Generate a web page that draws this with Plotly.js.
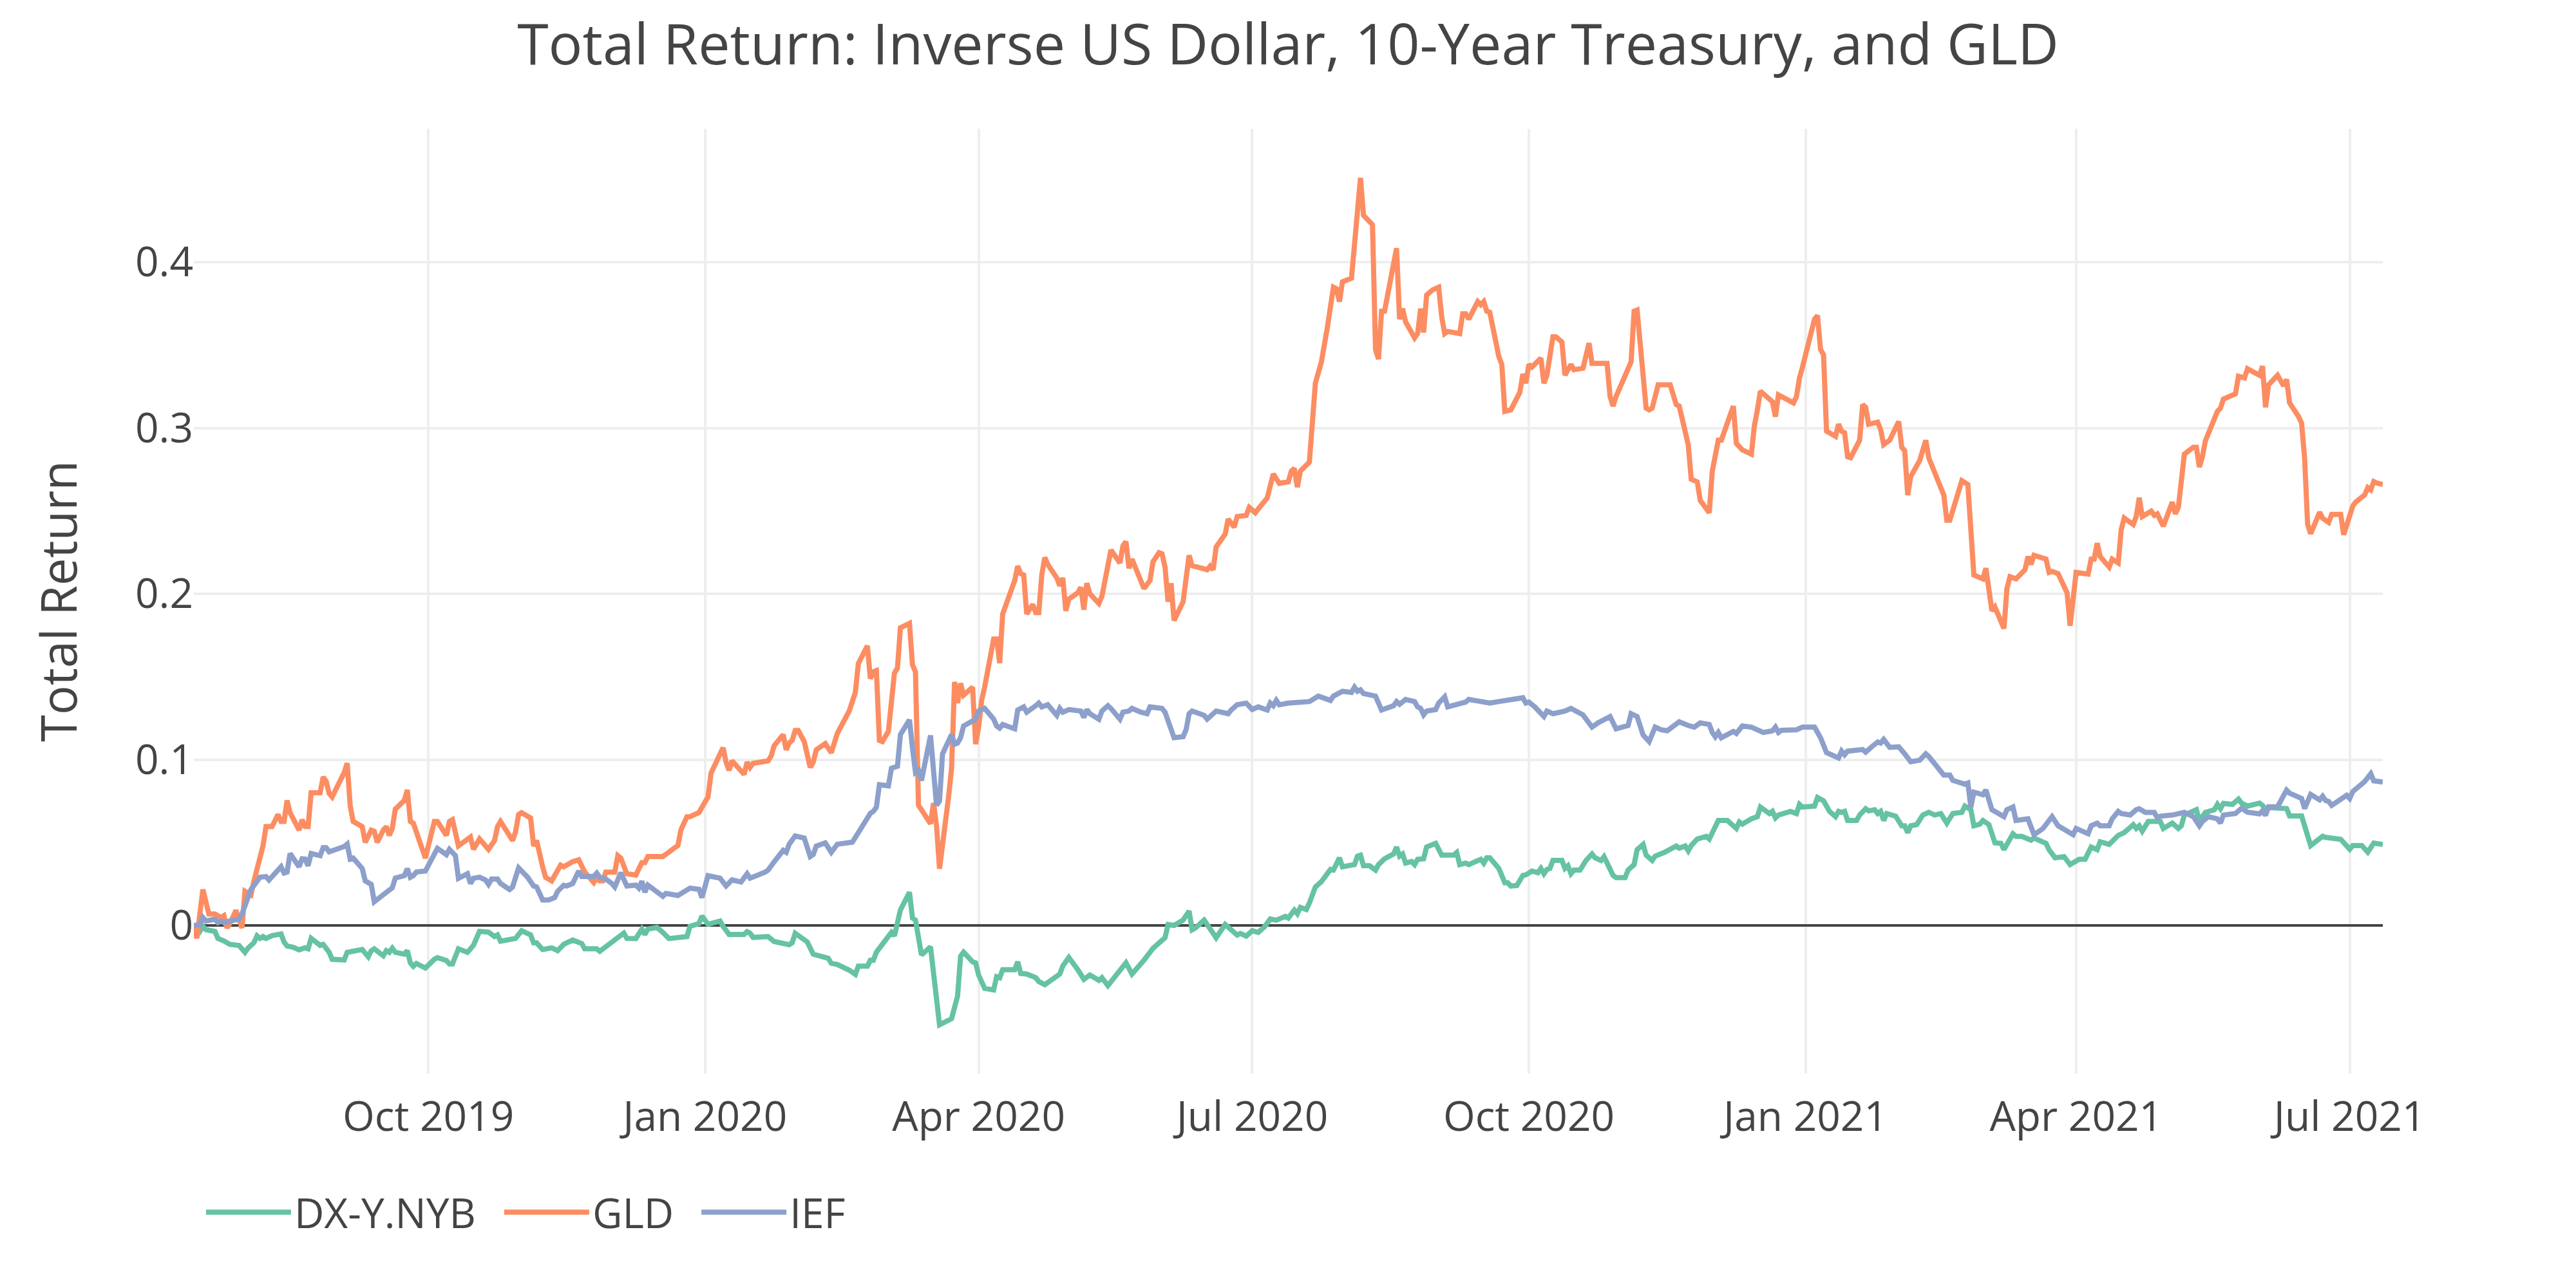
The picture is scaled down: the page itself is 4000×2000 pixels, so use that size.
<!DOCTYPE html>
<html>
<head>
<meta charset="utf-8">
<script src="https://cdn.plot.ly/plotly-3.0.1.min.js"></script>
<style>html,body{margin:0;padding:0;background:#fff;}#chart{width:4000px;height:2000px;}</style>
</head>
<body>
<div id="chart"></div>
<script>
const seriesNames = ['DX-Y.NYB', 'GLD', 'IEF'];
const seriesColors = ['#66c2a5', '#fc8d62', '#8da0cb'];

const dxDates = ['2019-07-15','2019-07-17','2019-07-18','2019-07-19','2019-07-22','2019-07-23','2019-07-25','2019-07-27','2019-07-30','2019-08-01','2019-08-02','2019-08-04','2019-08-05','2019-08-06','2019-08-07','2019-08-08','2019-08-10','2019-08-13','2019-08-14','2019-08-15','2019-08-17','2019-08-19','2019-08-21','2019-08-22','2019-08-23','2019-08-25','2019-08-26','2019-08-27','2019-08-29','2019-08-30','2019-09-03','2019-09-04','2019-09-09','2019-09-11','2019-09-12','2019-09-13','2019-09-16','2019-09-17','2019-09-18','2019-09-19','2019-09-20','2019-09-23','2019-09-24','2019-09-25','2019-09-26','2019-09-27','2019-09-30','2019-10-03','2019-10-04','2019-10-07','2019-10-08','2019-10-09','2019-10-11','2019-10-14','2019-10-16','2019-10-18','2019-10-21','2019-10-23','2019-10-24','2019-10-25','2019-10-28','2019-10-30','2019-11-01','2019-11-04','2019-11-05','2019-11-06','2019-11-08','2019-11-11','2019-11-13','2019-11-15','2019-11-18','2019-11-21','2019-11-22','2019-11-26','2019-11-27','2019-12-05','2019-12-06','2019-12-09','2019-12-11','2019-12-12','2019-12-13','2019-12-16','2019-12-18','2019-12-20','2019-12-26','2019-12-27','2019-12-30','2019-12-31','2020-01-02','2020-01-06','2020-01-07','2020-01-09','2020-01-14','2020-01-15','2020-01-16','2020-01-17','2020-01-22','2020-01-24','2020-01-29','2020-01-30','2020-01-31','2020-02-04','2020-02-06','2020-02-11','2020-02-12','2020-02-14','2020-02-18','2020-02-20','2020-02-21','2020-02-24','2020-02-25','2020-02-26','2020-02-27','2020-03-03','2020-03-04','2020-03-06','2020-03-09','2020-03-10','2020-03-11','2020-03-13','2020-03-16','2020-03-19','2020-03-23','2020-03-25','2020-03-26','2020-03-27','2020-03-30','2020-03-31','2020-04-01','2020-04-03','2020-04-06','2020-04-07','2020-04-08','2020-04-09','2020-04-13','2020-04-14','2020-04-15','2020-04-17','2020-04-20','2020-04-21','2020-04-23','2020-04-28','2020-04-29','2020-05-01','2020-05-04','2020-05-06','2020-05-08','2020-05-11','2020-05-12','2020-05-14','2020-05-20','2020-05-22','2020-05-26','2020-05-28','2020-05-29','2020-06-02','2020-06-03','2020-06-05','2020-06-08','2020-06-10','2020-06-11','2020-06-12','2020-06-15','2020-06-19','2020-06-22','2020-06-24','2020-06-26','2020-06-27','2020-06-29','2020-07-01','2020-07-03','2020-07-05','2020-07-06','2020-07-07','2020-07-09','2020-07-12','2020-07-13','2020-07-15','2020-07-16','2020-07-17','2020-07-19','2020-07-20','2020-07-22','2020-07-24','2020-07-27','2020-07-28','2020-07-30','2020-07-31','2020-08-04','2020-08-05','2020-08-06','2020-08-07','2020-08-09','2020-08-11','2020-08-12','2020-08-14','2020-08-17','2020-08-18','2020-08-19','2020-08-20','2020-08-21','2020-08-23','2020-08-24','2020-08-25','2020-08-27','2020-08-28','2020-08-31','2020-09-02','2020-09-06','2020-09-07','2020-09-08','2020-09-10','2020-09-11','2020-09-14','2020-09-15','2020-09-16','2020-09-17','2020-09-18','2020-09-21','2020-09-23','2020-09-24','2020-09-25','2020-09-27','2020-09-29','2020-09-30','2020-10-02','2020-10-04','2020-10-05','2020-10-06','2020-10-07','2020-10-08','2020-10-09','2020-10-12','2020-10-13','2020-10-14','2020-10-15','2020-10-16','2020-10-18','2020-10-20','2020-10-22','2020-10-23','2020-10-25','2020-10-26','2020-10-29','2020-10-30','2020-11-02','2020-11-03','2020-11-05','2020-11-06','2020-11-08','2020-11-09','2020-11-11','2020-11-12','2020-11-15','2020-11-17','2020-11-19','2020-11-20','2020-11-22','2020-11-23','2020-11-24','2020-11-26','2020-11-29','2020-11-30','2020-12-03','2020-12-06','2020-12-09','2020-12-10','2020-12-11','2020-12-14','2020-12-16','2020-12-17','2020-12-20','2020-12-21','2020-12-22','2020-12-23','2020-12-27','2020-12-29','2020-12-30','2020-12-31','2021-01-04','2021-01-05','2021-01-07','2021-01-09','2021-01-11','2021-01-12','2021-01-13','2021-01-14','2021-01-15','2021-01-18','2021-01-19','2021-01-21','2021-01-22','2021-01-24','2021-01-25','2021-01-26','2021-01-27','2021-01-28','2021-01-31','2021-02-02','2021-02-03','2021-02-04','2021-02-05','2021-02-07','2021-02-09','2021-02-11','2021-02-13','2021-02-15','2021-02-17','2021-02-19','2021-02-22','2021-02-23','2021-02-24','2021-02-25','2021-02-26','2021-02-28','2021-03-01','2021-03-03','2021-03-05','2021-03-07','2021-03-08','2021-03-10','2021-03-11','2021-03-12','2021-03-14','2021-03-17','2021-03-18','2021-03-22','2021-03-23','2021-03-25','2021-03-28','2021-03-30','2021-03-31','2021-04-02','2021-04-04','2021-04-06','2021-04-08','2021-04-09','2021-04-12','2021-04-15','2021-04-17','2021-04-20','2021-04-21','2021-04-22','2021-04-23','2021-04-25','2021-04-29','2021-04-30','2021-05-03','2021-05-05','2021-05-06','2021-05-07','2021-05-11','2021-05-12','2021-05-14','2021-05-17','2021-05-18','2021-05-19','2021-05-20','2021-05-23','2021-05-25','2021-05-26','2021-05-28','2021-06-01','2021-06-02','2021-06-03','2021-06-04','2021-06-10','2021-06-11','2021-06-15','2021-06-18','2021-06-22','2021-06-23','2021-06-28','2021-07-01','2021-07-02','2021-07-05','2021-07-07','2021-07-09','2021-07-12'];
const dxValues = [0,-0.0036,-0.0004,-0.0025,-0.0036,-0.0078,-0.0093,-0.0114,-0.012,-0.0162,-0.0137,-0.0103,-0.0063,-0.0078,-0.0067,-0.0078,-0.0061,-0.0051,-0.0099,-0.0124,-0.0131,-0.0147,-0.0135,-0.0141,-0.0078,-0.0105,-0.012,-0.0114,-0.0162,-0.0204,-0.0208,-0.0162,-0.0145,-0.0189,-0.0152,-0.0141,-0.0183,-0.0152,-0.0162,-0.0137,-0.0162,-0.0173,-0.0152,-0.0225,-0.0246,-0.0229,-0.0257,-0.0204,-0.0194,-0.0211,-0.0232,-0.0232,-0.0141,-0.0162,-0.012,-0.0036,-0.004,-0.0067,-0.0057,-0.0095,-0.0084,-0.0078,-0.0032,-0.0057,-0.0105,-0.0105,-0.0145,-0.0135,-0.0152,-0.0114,-0.0088,-0.0109,-0.0141,-0.0141,-0.0156,-0.0046,-0.0078,-0.0079,-0.0022,-0.0054,-0.0022,-0.0012,-0.0042,-0.0079,-0.0067,-0.0005,0.0012,0.0057,0.0007,0.0027,-0.0005,-0.0054,-0.0054,-0.0037,-0.0047,-0.0072,-0.0067,-0.0097,-0.0116,-0.0104,-0.0047,-0.0099,-0.0173,-0.0198,-0.0228,-0.0235,-0.027,-0.0295,-0.0245,-0.0245,-0.021,-0.021,-0.0161,-0.0042,-0.0062,0.0094,0.02,0.0045,0.0032,-0.0178,-0.0129,-0.0599,-0.0562,-0.0426,-0.0186,-0.0161,-0.0219,-0.0225,-0.0299,-0.0379,-0.0389,-0.0309,-0.0315,-0.0267,-0.0267,-0.0219,-0.0289,-0.0293,-0.0315,-0.0338,-0.0357,-0.0293,-0.0244,-0.0193,-0.0267,-0.0325,-0.0299,-0.0331,-0.0315,-0.0363,-0.0225,-0.0293,-0.0209,-0.0154,-0.0138,-0.0074,0.0006,0,0.0032,0.0087,-0.0026,-0.0016,0.0032,-0.0074,0.0006,-0.0026,-0.0058,-0.0048,-0.0064,-0.0032,-0.0042,-0.001,0.0016,0.0039,0.0032,0.0055,0.0045,0.0093,0.0071,0.0109,0.0096,0.0135,0.0232,0.0264,0.0338,0.0334,0.0408,0.0354,0.0367,0.0418,0.0424,0.036,0.036,0.0334,0.0367,0.0402,0.0431,0.0473,0.0418,0.0431,0.0376,0.0386,0.0367,0.0399,0.0402,0.0473,0.0495,0.0424,0.0424,0.044,0.0367,0.0376,0.0367,0.0392,0.0399,0.0376,0.0408,0.0408,0.0344,0.0257,0.0257,0.0238,0.0241,0.0302,0.0305,0.0328,0.0318,0.0344,0.0312,0.0338,0.0344,0.0392,0.0392,0.0344,0.036,0.0312,0.0334,0.0334,0.0392,0.0431,0.0408,0.0392,0.0415,0.0302,0.0289,0.0289,0.0334,0.0367,0.0457,0.0489,0.0424,0.0392,0.0418,0.044,0.0463,0.0479,0.0466,0.0479,0.045,0.0482,0.0521,0.0537,0.0521,0.0633,0.0633,0.0585,0.0624,0.0611,0.0643,0.0656,0.0714,0.0675,0.0688,0.0649,0.0666,0.0688,0.0675,0.073,0.0714,0.072,0.0772,0.0752,0.0688,0.0656,0.0688,0.0682,0.0688,0.0633,0.0633,0.0666,0.0704,0.0691,0.0698,0.0675,0.0688,0.0633,0.0675,0.0659,0.0601,0.0601,0.056,0.0601,0.0608,0.0666,0.0682,0.0666,0.0675,0.0617,0.0675,0.0682,0.072,0.0704,0.0698,0.0601,0.0611,0.0633,0.0608,0.0498,0.0495,0.0457,0.0521,0.0553,0.0537,0.0537,0.0514,0.0527,0.0495,0.0457,0.0408,0.0415,0.0367,0.0376,0.0399,0.0399,0.0473,0.0457,0.0505,0.0489,0.0543,0.056,0.0608,0.0585,0.0601,0.0569,0.0627,0.0627,0.0585,0.0617,0.0585,0.0601,0.0666,0.0698,0.0633,0.0682,0.0698,0.073,0.0704,0.0736,0.073,0.0762,0.0738,0.072,0.0738,0.0724,0.0701,0.0711,0.0705,0.066,0.066,0.0482,0.0538,0.0531,0.0519,0.046,0.0482,0.0482,0.0442,0.0497,0.0488];

const gldDates = ['2019-07-15','2019-07-16','2019-07-18','2019-07-20','2019-07-22','2019-07-24','2019-07-25','2019-07-26','2019-07-27','2019-07-29','2019-07-30','2019-07-31','2019-08-01','2019-08-03','2019-08-04','2019-08-05','2019-08-07','2019-08-08','2019-08-10','2019-08-12','2019-08-13','2019-08-14','2019-08-15','2019-08-16','2019-08-19','2019-08-20','2019-08-21','2019-08-22','2019-08-23','2019-08-26','2019-08-27','2019-08-28','2019-08-29','2019-08-30','2019-09-03','2019-09-04','2019-09-05','2019-09-06','2019-09-09','2019-09-10','2019-09-12','2019-09-13','2019-09-14','2019-09-16','2019-09-17','2019-09-18','2019-09-19','2019-09-20','2019-09-23','2019-09-24','2019-09-25','2019-09-26','2019-09-30','2019-10-03','2019-10-04','2019-10-07','2019-10-08','2019-10-09','2019-10-11','2019-10-15','2019-10-16','2019-10-18','2019-10-21','2019-10-23','2019-10-24','2019-10-25','2019-10-29','2019-10-30','2019-10-31','2019-11-01','2019-11-04','2019-11-05','2019-11-06','2019-11-08','2019-11-09','2019-11-11','2019-11-14','2019-11-15','2019-11-18','2019-11-20','2019-11-22','2019-11-24','2019-11-25','2019-11-26','2019-11-27','2019-11-28','2019-11-29','2019-12-02','2019-12-03','2019-12-04','2019-12-06','2019-12-09','2019-12-11','2019-12-12','2019-12-13','2019-12-18','2019-12-20','2019-12-23','2019-12-24','2019-12-26','2019-12-27','2019-12-30','2019-12-31','2020-01-02','2020-01-03','2020-01-07','2020-01-08','2020-01-09','2020-01-10','2020-01-14','2020-01-15','2020-01-16','2020-01-17','2020-01-22','2020-01-23','2020-01-24','2020-01-27','2020-01-28','2020-01-29','2020-01-30','2020-01-31','2020-02-01','2020-02-03','2020-02-05','2020-02-06','2020-02-07','2020-02-10','2020-02-11','2020-02-12','2020-02-14','2020-02-18','2020-02-20','2020-02-21','2020-02-24','2020-02-25','2020-02-26','2020-02-27','2020-02-28','2020-02-29','2020-03-02','2020-03-04','2020-03-05','2020-03-06','2020-03-09','2020-03-10','2020-03-11','2020-03-12','2020-03-16','2020-03-17','2020-03-18','2020-03-19','2020-03-22','2020-03-23','2020-03-24','2020-03-25','2020-03-26','2020-03-27','2020-03-30','2020-03-31','2020-04-01','2020-04-02','2020-04-03','2020-04-06','2020-04-07','2020-04-08','2020-04-09','2020-04-13','2020-04-14','2020-04-15','2020-04-16','2020-04-17','2020-04-19','2020-04-20','2020-04-21','2020-04-22','2020-04-23','2020-04-24','2020-04-27','2020-04-28','2020-04-29','2020-04-30','2020-05-01','2020-05-04','2020-05-05','2020-05-06','2020-05-07','2020-05-08','2020-05-11','2020-05-12','2020-05-15','2020-05-18','2020-05-19','2020-05-20','2020-05-21','2020-05-22','2020-05-26','2020-05-28','2020-05-29','2020-05-31','2020-06-01','2020-06-02','2020-06-03','2020-06-04','2020-06-05','2020-06-08','2020-06-10','2020-06-11','2020-06-16','2020-06-17','2020-06-18','2020-06-19','2020-06-22','2020-06-23','2020-06-25','2020-06-26','2020-06-29','2020-06-30','2020-07-02','2020-07-06','2020-07-08','2020-07-10','2020-07-13','2020-07-14','2020-07-15','2020-07-16','2020-07-17','2020-07-20','2020-07-22','2020-07-24','2020-07-26','2020-07-28','2020-07-29','2020-07-30','2020-07-31','2020-08-03','2020-08-06','2020-08-07','2020-08-10','2020-08-11','2020-08-12','2020-08-13','2020-08-14','2020-08-18','2020-08-19','2020-08-20','2020-08-21','2020-08-24','2020-08-25','2020-08-26','2020-08-27','2020-08-28','2020-08-30','2020-09-01','2020-09-02','2020-09-03','2020-09-04','2020-09-08','2020-09-09','2020-09-10','2020-09-11','2020-09-14','2020-09-15','2020-09-16','2020-09-17','2020-09-18','2020-09-21','2020-09-22','2020-09-23','2020-09-25','2020-09-28','2020-09-29','2020-09-30','2020-10-01','2020-10-02','2020-10-05','2020-10-06','2020-10-07','2020-10-09','2020-10-10','2020-10-12','2020-10-13','2020-10-15','2020-10-16','2020-10-19','2020-10-21','2020-10-22','2020-10-26','2020-10-27','2020-10-28','2020-10-29','2020-10-30','2020-11-03','2020-11-04','2020-11-05','2020-11-06','2020-11-09','2020-11-10','2020-11-11','2020-11-13','2020-11-17','2020-11-19','2020-11-20','2020-11-23','2020-11-24','2020-11-26','2020-11-27','2020-11-30','2020-12-01','2020-12-03','2020-12-04','2020-12-08','2020-12-09','2020-12-10','2020-12-11','2020-12-14','2020-12-15','2020-12-16','2020-12-17','2020-12-18','2020-12-21','2020-12-22','2020-12-23','2020-12-28','2020-12-29','2020-12-30','2020-12-31','2021-01-04','2021-01-05','2021-01-06','2021-01-07','2021-01-08','2021-01-11','2021-01-12','2021-01-13','2021-01-14','2021-01-15','2021-01-16','2021-01-19','2021-01-20','2021-01-21','2021-01-22','2021-01-25','2021-01-26','2021-01-27','2021-01-29','2021-02-01','2021-02-02','2021-02-03','2021-02-04','2021-02-05','2021-02-08','2021-02-10','2021-02-11','2021-02-16','2021-02-17','2021-02-18','2021-02-22','2021-02-24','2021-02-26','2021-03-01','2021-03-02','2021-03-04','2021-03-05','2021-03-08','2021-03-09','2021-03-10','2021-03-12','2021-03-15','2021-03-16','2021-03-17','2021-03-18','2021-03-22','2021-03-23','2021-03-24','2021-03-26','2021-03-29','2021-03-30','2021-04-01','2021-04-05','2021-04-06','2021-04-07','2021-04-08','2021-04-09','2021-04-12','2021-04-13','2021-04-15','2021-04-16','2021-04-17','2021-04-20','2021-04-21','2021-04-22','2021-04-23','2021-04-26','2021-04-27','2021-04-28','2021-04-30','2021-05-03','2021-05-04','2021-05-05','2021-05-07','2021-05-10','2021-05-11','2021-05-12','2021-05-13','2021-05-14','2021-05-18','2021-05-19','2021-05-20','2021-05-24','2021-05-25','2021-05-27','2021-05-28','2021-06-01','2021-06-02','2021-06-03','2021-06-04','2021-06-07','2021-06-09','2021-06-10','2021-06-11','2021-06-14','2021-06-15','2021-06-16','2021-06-17','2021-06-18','2021-06-21','2021-06-22','2021-06-24','2021-06-25','2021-06-28','2021-06-29','2021-07-02','2021-07-03','2021-07-06','2021-07-07','2021-07-08','2021-07-09','2021-07-10','2021-07-12'];
const gldValues = [0,-0.0078,0.0217,0.0069,0.0069,0.0048,0.0059,-0.0015,0.0013,0.0091,0.0038,-0.0015,0.0206,0.0185,0.0269,0.0333,0.048,0.0596,0.0596,0.0669,0.0627,0.0627,0.0754,0.068,0.0575,0.0638,0.0596,0.0596,0.08,0.08,0.0895,0.087,0.0796,0.0775,0.0922,0.0979,0.0722,0.0627,0.0596,0.0501,0.0575,0.0568,0.0501,0.0575,0.0596,0.0543,0.0585,0.0701,0.0754,0.0817,0.0627,0.0617,0.0406,0.0627,0.0627,0.0543,0.0627,0.0638,0.048,0.0533,0.0459,0.0522,0.0459,0.0512,0.0596,0.0627,0.0512,0.0564,0.0669,0.068,0.0648,0.048,0.0512,0.0354,0.029,0.0269,0.0364,0.0354,0.0385,0.0396,0.0322,0.028,0.0259,0.029,0.0269,0.0269,0.0322,0.0322,0.0421,0.0406,0.0312,0.0304,0.0379,0.0379,0.0416,0.0416,0.0441,0.0483,0.0577,0.0656,0.0656,0.0681,0.0713,0.0775,0.0918,0.1072,0.0985,0.0936,0.0993,0.0911,0.0985,0.0953,0.0978,0.0993,0.1022,0.1084,0.1151,0.1059,0.1101,0.1116,0.1176,0.1176,0.1109,0.0953,0.0985,0.1059,0.1097,0.1072,0.1042,0.1158,0.1295,0.1406,0.1579,0.1686,0.1488,0.153,0.1537,0.1116,0.1109,0.1171,0.1522,0.1552,0.1795,0.1822,0.1572,0.153,0.0725,0.0614,0.0738,0.0601,0.0342,0.0775,0.0948,0.1469,0.1341,0.146,0.1389,0.1437,0.1093,0.1196,0.1357,0.1437,0.1727,0.1727,0.1582,0.1878,0.208,0.2167,0.2122,0.2113,0.1878,0.1936,0.1887,0.1887,0.2113,0.2219,0.2177,0.2096,0.2048,0.2096,0.1897,0.1968,0.2006,0.2039,0.1904,0.2064,0.2,0.1942,0.1984,0.2264,0.2186,0.2289,0.2315,0.2154,0.2209,0.2032,0.208,0.2193,0.2248,0.2241,0.2161,0.1952,0.2064,0.1839,0.1952,0.2232,0.217,0.2145,0.2167,0.2145,0.2283,0.236,0.245,0.2402,0.2466,0.2473,0.2521,0.2489,0.2579,0.2723,0.2666,0.2675,0.274,0.2756,0.2643,0.274,0.2794,0.327,0.3399,0.3608,0.3849,0.3839,0.3762,0.3881,0.3903,0.4508,0.4283,0.4225,0.3473,0.3415,0.3704,0.3704,0.4084,0.3656,0.372,0.364,0.3543,0.3569,0.372,0.3576,0.3801,0.3833,0.3849,0.3672,0.3569,0.3582,0.3569,0.3688,0.3688,0.3656,0.3762,0.3743,0.3762,0.3704,0.3698,0.3431,0.3383,0.31,0.3109,0.3215,0.3325,0.327,0.3383,0.3367,0.3421,0.327,0.3318,0.355,0.355,0.3518,0.3318,0.3383,0.3351,0.336,0.3511,0.3389,0.3383,0.3389,0.319,0.3132,0.319,0.3344,0.3399,0.3704,0.3711,0.3119,0.3109,0.3119,0.326,0.326,0.3141,0.3132,0.29,0.2691,0.2675,0.2563,0.2489,0.274,0.2926,0.2926,0.3132,0.2907,0.2884,0.2868,0.2842,0.3013,0.3109,0.3222,0.3206,0.3158,0.3068,0.3199,0.3151,0.319,0.3302,0.3367,0.3656,0.3678,0.3473,0.3441,0.2981,0.2949,0.3023,0.298,0.2971,0.2826,0.282,0.2926,0.3141,0.3125,0.3023,0.3035,0.299,0.29,0.2926,0.3039,0.2884,0.2862,0.2595,0.2707,0.2804,0.2926,0.282,0.2595,0.2444,0.2444,0.2682,0.2659,0.2113,0.209,0.2154,0.1897,0.192,0.1791,0.2032,0.2103,0.209,0.2145,0.2225,0.2177,0.2232,0.2209,0.2129,0.2135,0.2122,0.2006,0.1807,0.2129,0.2119,0.2209,0.2209,0.2305,0.2225,0.2161,0.2209,0.2186,0.2386,0.2457,0.2418,0.2466,0.2579,0.2466,0.2498,0.2473,0.2482,0.2408,0.2553,0.2482,0.2521,0.2842,0.2884,0.2884,0.2765,0.2826,0.2923,0.31,0.3119,0.3174,0.3206,0.3312,0.3302,0.3357,0.3318,0.3373,0.3125,0.326,0.3318,0.3254,0.3293,0.3151,0.3068,0.3029,0.2816,0.2418,0.2362,0.2492,0.2455,0.243,0.2479,0.2479,0.2356,0.2529,0.2553,0.2597,0.264,0.2627,0.2677,0.2668,0.2659];

const iefDates = ['2019-07-15','2019-07-17','2019-07-18','2019-07-19','2019-07-22','2019-07-23','2019-07-24','2019-07-25','2019-07-27','2019-07-30','2019-07-31','2019-08-02','2019-08-03','2019-08-06','2019-08-08','2019-08-09','2019-08-12','2019-08-13','2019-08-14','2019-08-15','2019-08-16','2019-08-17','2019-08-19','2019-08-20','2019-08-21','2019-08-22','2019-08-23','2019-08-26','2019-08-27','2019-08-28','2019-08-29','2019-09-03','2019-09-04','2019-09-05','2019-09-06','2019-09-09','2019-09-10','2019-09-12','2019-09-13','2019-09-16','2019-09-18','2019-09-19','2019-09-20','2019-09-23','2019-09-24','2019-09-25','2019-09-26','2019-09-27','2019-09-30','2019-10-02','2019-10-04','2019-10-07','2019-10-08','2019-10-10','2019-10-11','2019-10-14','2019-10-15','2019-10-16','2019-10-17','2019-10-18','2019-10-20','2019-10-21','2019-10-22','2019-10-24','2019-10-25','2019-10-28','2019-10-29','2019-10-31','2019-11-03','2019-11-04','2019-11-05','2019-11-06','2019-11-08','2019-11-10','2019-11-12','2019-11-13','2019-11-15','2019-11-16','2019-11-18','2019-11-20','2019-11-21','2019-11-25','2019-11-26','2019-11-27','2019-11-29','2019-12-01','2019-12-02','2019-12-04','2019-12-06','2019-12-09','2019-12-10','2019-12-11','2019-12-12','2019-12-13','2019-12-16','2019-12-18','2019-12-19','2019-12-23','2019-12-27','2019-12-30','2019-12-31','2020-01-02','2020-01-06','2020-01-08','2020-01-10','2020-01-13','2020-01-15','2020-01-16','2020-01-21','2020-01-22','2020-01-24','2020-01-27','2020-01-28','2020-01-29','2020-01-31','2020-02-03','2020-02-05','2020-02-06','2020-02-07','2020-02-10','2020-02-12','2020-02-14','2020-02-19','2020-02-21','2020-02-25','2020-02-26','2020-02-27','2020-02-28','2020-03-02','2020-03-03','2020-03-05','2020-03-06','2020-03-09','2020-03-10','2020-03-11','2020-03-12','2020-03-13','2020-03-16','2020-03-18','2020-03-19','2020-03-20','2020-03-23','2020-03-24','2020-03-25','2020-03-26','2020-03-27','2020-03-31','2020-04-01','2020-04-03','2020-04-06','2020-04-07','2020-04-08','2020-04-09','2020-04-13','2020-04-14','2020-04-16','2020-04-17','2020-04-20','2020-04-21','2020-04-22','2020-04-24','2020-04-27','2020-04-28','2020-04-29','2020-05-01','2020-05-05','2020-05-06','2020-05-07','2020-05-08','2020-05-11','2020-05-12','2020-05-14','2020-05-15','2020-05-18','2020-05-19','2020-05-21','2020-05-22','2020-05-25','2020-05-27','2020-05-28','2020-06-01','2020-06-02','2020-06-05','2020-06-08','2020-06-09','2020-06-10','2020-06-11','2020-06-15','2020-06-16','2020-06-19','2020-06-23','2020-06-24','2020-06-26','2020-06-29','2020-07-01','2020-07-03','2020-07-06','2020-07-07','2020-07-08','2020-07-09','2020-07-10','2020-07-13','2020-07-20','2020-07-23','2020-07-27','2020-07-28','2020-07-31','2020-08-03','2020-08-04','2020-08-05','2020-08-06','2020-08-07','2020-08-11','2020-08-12','2020-08-13','2020-08-17','2020-08-18','2020-08-19','2020-08-21','2020-08-24','2020-08-25','2020-08-26','2020-08-27','2020-08-28','2020-08-31','2020-09-01','2020-09-03','2020-09-04','2020-09-10','2020-09-11','2020-09-18','2020-09-21','2020-09-24','2020-09-25','2020-09-29','2020-09-30','2020-10-01','2020-10-03','2020-10-06','2020-10-07','2020-10-09','2020-10-13','2020-10-15','2020-10-19','2020-10-22','2020-10-24','2020-10-26','2020-10-28','2020-10-30','2020-11-03','2020-11-04','2020-11-06','2020-11-08','2020-11-10','2020-11-12','2020-11-14','2020-11-16','2020-11-18','2020-11-19','2020-11-20','2020-11-23','2020-11-25','2020-11-27','2020-11-30','2020-12-01','2020-12-02','2020-12-03','2020-12-04','2020-12-08','2020-12-09','2020-12-11','2020-12-14','2020-12-18','2020-12-21','2020-12-22','2020-12-23','2020-12-24','2020-12-29','2020-12-31','2021-01-04','2021-01-06','2021-01-08','2021-01-12','2021-01-13','2021-01-14','2021-01-15','2021-01-20','2021-01-21','2021-01-23','2021-01-25','2021-01-26','2021-01-27','2021-01-29','2021-02-01','2021-02-03','2021-02-04','2021-02-05','2021-02-08','2021-02-10','2021-02-11','2021-02-13','2021-02-16','2021-02-18','2021-02-19','2021-02-23','2021-02-24','2021-02-25','2021-02-26','2021-03-01','2021-03-02','2021-03-04','2021-03-08','2021-03-09','2021-03-11','2021-03-12','2021-03-16','2021-03-18','2021-03-21','2021-03-23','2021-03-24','2021-03-26','2021-03-31','2021-04-01','2021-04-05','2021-04-06','2021-04-08','2021-04-09','2021-04-12','2021-04-13','2021-04-15','2021-04-16','2021-04-19','2021-04-21','2021-04-22','2021-04-24','2021-04-27','2021-04-28','2021-04-29','2021-05-03','2021-05-07','2021-05-10','2021-05-12','2021-05-13','2021-05-15','2021-05-18','2021-05-19','2021-05-20','2021-05-24','2021-05-26','2021-05-28','2021-06-01','2021-06-02','2021-06-03','2021-06-04','2021-06-07','2021-06-10','2021-06-11','2021-06-15','2021-06-16','2021-06-18','2021-06-21','2021-06-22','2021-06-23','2021-06-24','2021-06-25','2021-06-30','2021-07-01','2021-07-02','2021-07-06','2021-07-08','2021-07-09','2021-07-12'];
const iefValues = [0,0.0006,0.0048,0.0027,0.0038,0.0017,0.0027,0.0017,0.0027,0.0038,0.0069,0.0175,0.0217,0.0291,0.0295,0.0274,0.0333,0.0354,0.0316,0.0322,0.0434,0.0406,0.0354,0.0402,0.04,0.036,0.0434,0.0421,0.0469,0.0469,0.0444,0.0476,0.0491,0.04,0.0406,0.0343,0.0269,0.0248,0.0143,0.0185,0.0217,0.0227,0.0286,0.0301,0.0343,0.0291,0.0301,0.0322,0.0328,0.0396,0.0465,0.0427,0.0459,0.0421,0.0284,0.0312,0.0253,0.0284,0.0291,0.0291,0.0274,0.0248,0.028,0.028,0.0253,0.0217,0.0232,0.0347,0.0291,0.0269,0.0238,0.0232,0.0154,0.0154,0.0168,0.0206,0.0242,0.0238,0.0253,0.0328,0.0295,0.0295,0.0316,0.0291,0.028,0.0253,0.0232,0.0318,0.0238,0.0243,0.0225,0.0267,0.02,0.0243,0.02,0.0176,0.0193,0.0181,0.0225,0.0218,0.0168,0.03,0.0285,0.0238,0.0275,0.0262,0.0312,0.0285,0.0322,0.0334,0.0384,0.0453,0.0441,0.049,0.054,0.0527,0.0416,0.0428,0.0478,0.0498,0.0441,0.049,0.0502,0.0564,0.0676,0.0688,0.0713,0.0849,0.0842,0.0948,0.096,0.1151,0.124,0.1072,0.0923,0.0936,0.0874,0.1146,0.0725,0.075,0.1035,0.1151,0.1093,0.11,0.1132,0.1203,0.1244,0.1293,0.1309,0.1244,0.1203,0.119,0.1212,0.1186,0.1299,0.1318,0.1286,0.1325,0.1341,0.1318,0.1331,0.1267,0.1309,0.1286,0.1302,0.1293,0.1254,0.1302,0.1277,0.1244,0.1293,0.1325,0.1309,0.1244,0.1286,0.1293,0.1309,0.1286,0.1277,0.1318,0.1309,0.1286,0.1132,0.1138,0.118,0.1277,0.1293,0.1267,0.1244,0.1293,0.1277,0.1299,0.1331,0.1341,0.1302,0.1318,0.1299,0.1341,0.1325,0.1357,0.1331,0.1341,0.135,0.1383,0.1357,0.1383,0.1412,0.1405,0.1437,0.1412,0.1421,0.1399,0.1383,0.1341,0.1299,0.1325,0.135,0.1334,0.1363,0.135,0.1318,0.1309,0.127,0.1293,0.1302,0.1341,0.1379,0.1318,0.1347,0.1363,0.1341,0.135,0.1357,0.1363,0.1373,0.1341,0.1347,0.1318,0.126,0.1293,0.1277,0.1293,0.1309,0.127,0.1196,0.1222,0.1244,0.126,0.1186,0.1206,0.1277,0.126,0.1148,0.1109,0.1196,0.118,0.1174,0.1203,0.1212,0.1228,0.1206,0.1196,0.1222,0.1212,0.1164,0.1138,0.1164,0.1132,0.117,0.1158,0.1203,0.1196,0.1164,0.1174,0.1196,0.1164,0.1177,0.118,0.1196,0.1196,0.1132,0.1042,0.101,0.1051,0.1029,0.1051,0.1061,0.1045,0.1077,0.1106,0.11,0.1122,0.1074,0.1077,0.1035,0.1013,0.0987,0.0997,0.1035,0.1019,0.0971,0.0907,0.0907,0.0875,0.0852,0.0859,0.0714,0.0804,0.0788,0.0817,0.0698,0.0656,0.0698,0.0714,0.0633,0.0643,0.0547,0.0585,0.0633,0.0656,0.0601,0.0547,0.0585,0.0553,0.0601,0.0617,0.0601,0.0601,0.0643,0.0688,0.0675,0.0666,0.0698,0.0704,0.0682,0.0682,0.0649,0.0659,0.0666,0.0682,0.0656,0.0601,0.0627,0.0656,0.0643,0.0617,0.0666,0.0675,0.0707,0.0683,0.0673,0.0692,0.0664,0.0716,0.0716,0.0816,0.0798,0.0766,0.0705,0.079,0.0757,0.0779,0.0753,0.0748,0.0724,0.0785,0.0766,0.0807,0.0868,0.0915,0.0872,0.0865];

const chartTitle = 'Total Return: Inverse US Dollar, 10-Year Treasury, and GLD';
const yTitle = 'Total Return';
const xRange = ['2019-07-15', '2021-07-12'];
const yRange = [-0.0893, 0.4804];

const allDates = [dxDates, gldDates, iefDates];
const allValues = [dxValues, gldValues, iefValues];
const legendIds = ['legend', 'legend2', 'legend3'];
const legendX = [0.0041, 0.1403, 0.2304];

const traces = seriesNames.map((name, i) => ({
  type: 'scatter',
  mode: 'lines',
  name: name,
  x: allDates[i],
  y: allValues[i],
  legend: legendIds[i],
  line: {color: seriesColors[i], width: 8}
}));

const font = {family: '"Open Sans", verdana, arial, sans-serif', color: '#444'};

const layout = {
  width: 4000,
  height: 2000,
  paper_bgcolor: '#fff',
  plot_bgcolor: '#fff',
  font: Object.assign({}, font, {size: 64}),
  margin: {l: 301, r: 300, t: 200, b: 333, pad: 0},
  title: {
    text: chartTitle,
    font: Object.assign({}, font, {size: 88}),
    x: 0.5, xref: 'container', xanchor: 'center',
    y: 0.9655, yref: 'container', yanchor: 'middle'
  },
  xaxis: {
    type: 'date',
    range: xRange,
    dtick: 'M3',
    tick0: '2019-01-01',
    tickformat: '%b %Y',
    showgrid: true,
    gridcolor: '#eee',
    gridwidth: 4,
    zeroline: false,
    showline: false,
    ticks: '',
    ticklabelstandoff: 24,
    tickfont: Object.assign({}, font, {size: 64}),
    automargin: false
  },
  yaxis: {
    range: yRange,
    dtick: 0.1,
    tick0: 0,
    showgrid: true,
    gridcolor: '#eee',
    gridwidth: 4,
    zeroline: true,
    zerolinecolor: '#444',
    zerolinewidth: 4,
    showline: false,
    ticks: '',
    tickfont: Object.assign({}, font, {size: 64}),
    automargin: false,
    title: {text: yTitle, font: Object.assign({}, font, {size: 76}), standoff: 65}
  },
  showlegend: true
};

legendIds.forEach((id, i) => {
  layout[id] = {
    orientation: 'h',
    x: legendX[i], xanchor: 'left',
    y: -0.147, yanchor: 'middle',
    font: Object.assign({}, font, {size: 64}),
    itemwidth: 132,
    bgcolor: 'rgba(0,0,0,0)'
  };
});

Plotly.newPlot('chart', traces, layout, {staticPlot: true, displayModeBar: false});
</script>
</body>
</html>
